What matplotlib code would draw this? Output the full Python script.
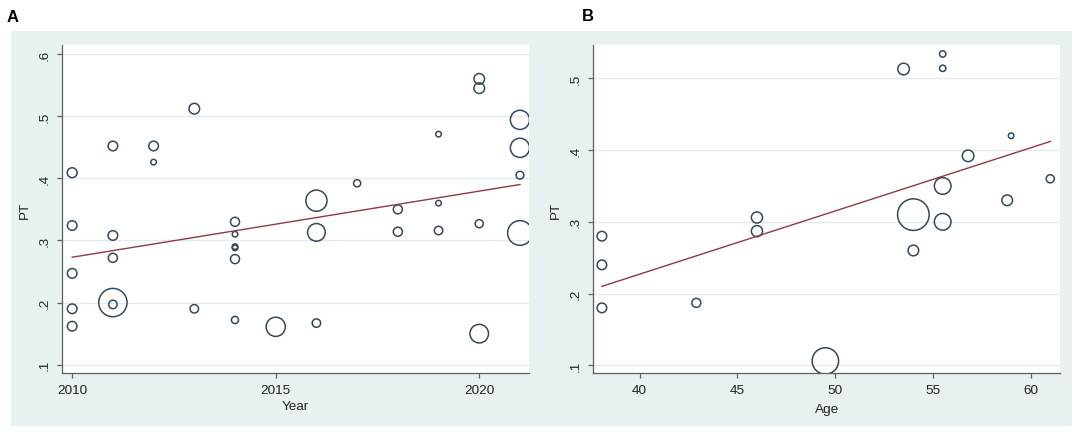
import matplotlib
matplotlib.use('Agg')
from matplotlib import pyplot as plt
from matplotlib.patches import Rectangle

plt.rcParams['font.family'] = ['Liberation Sans', 'DejaVu Sans']

# panel A: PT by publication year, marker area ~ study weight
year = [2010, 2010, 2010, 2010, 2010,
        2011, 2011, 2011, 2011, 2011,
        2012, 2012,
        2013, 2013,
        2014, 2014, 2014, 2014, 2014, 2014,
        2015,
        2016, 2016, 2016,
        2017,
        2018, 2018,
        2019, 2019, 2019,
        2020, 2020, 2020, 2020,
        2021, 2021, 2021, 2021]
pt_year = [0.409, 0.324, 0.247, 0.190, 0.162,
           0.452, 0.308, 0.272, 0.197, 0.200,
           0.452, 0.426,
           0.512, 0.190,
           0.330, 0.310, 0.290, 0.288, 0.270, 0.172,
           0.161,
           0.364, 0.313, 0.167,
           0.392,
           0.350, 0.314,
           0.471, 0.360, 0.316,
           0.560, 0.545, 0.327, 0.150,
           0.494, 0.449, 0.405, 0.312]
w_year = [10.5, 10, 10, 10, 10,
          10, 10, 9, 8, 73,
          10, 4,
          12, 8,
          9, 4, 4, 4, 9, 6,
          35,
          42, 30, 8,
          6,
          9, 9,
          4, 4, 8,
          12, 12, 7.5, 33,
          35, 35, 7, 56]
fit_year_x = [2010, 2021]
fit_year_y = [0.273, 0.390]

# panel B: PT by age
age = [38.07, 38.07, 38.07, 42.9, 46.0, 46.0, 49.5, 53.5, 54.0, 54.0,
       55.5, 55.5, 55.5, 55.5, 56.8, 58.8, 59.0, 61.0]
pt_age = [0.280, 0.240, 0.180, 0.187, 0.306, 0.287, 0.106, 0.513, 0.310, 0.260,
          0.534, 0.514, 0.350, 0.300, 0.392, 0.330, 0.420, 0.360]
w_age = [10, 10, 10, 9, 13, 13, 64, 14, 90, 12,
         5, 5, 27, 27, 14, 12, 4, 7.5]
fit_age_x = [38.07, 61.0]
fit_age_y = [0.210, 0.412]

BG = '#e9f0f2'
GRID = '#e3eaed'
AXIS = '#5f5f5f'
NAVY = '#34495c'
MAROON = '#8e3a43'

W, H = 1084, 435


def msize(w):
    # weight -> outer diameter in px -> marker area in pt^2
    d = 11 * (w / 10) ** 0.5 - 1.4
    return (d * 0.72) ** 2


def panel(rect, x, y, w, fitx, fity, xlim, ylim, xticks, xlabels, yticks, ylabels, xname, lx, ly):
    ax = fig.add_axes(rect)
    ax.set_facecolor('white')
    ax.set_xlim(*xlim)
    ax.set_ylim(*ylim)
    for t in yticks:
        ax.axhline(t, color=GRID, lw=1.0, zorder=0)
    ax.scatter(x, y, s=[msize(v) for v in w], facecolors='none', edgecolors=NAVY,
               linewidths=1.1, zorder=3)
    ax.plot(fitx, fity, color=MAROON, lw=1.0, zorder=4)
    for side in ['top', 'right']:
        ax.spines[side].set_visible(False)
    for side in ['left', 'bottom']:
        ax.spines[side].set_color(AXIS)
        ax.spines[side].set_linewidth(0.9)
    ax.set_xticks(xticks)
    ax.set_xticklabels(xlabels)
    ax.set_yticks(yticks)
    ax.set_yticklabels(ylabels, rotation=90, va='center')
    ax.tick_params(axis='both', colors=AXIS, length=3.5, width=0.9, labelsize=9.7,
                   labelcolor='#222222', pad=4.5)
    ax.set_xlabel(xname, fontsize=9.7, color='#222222')
    ax.set_ylabel('PT', fontsize=9.7, color='#222222')
    ax.xaxis.set_label_coords(0.5, lx)
    ax.yaxis.set_label_coords(ly, 0.5)
    return ax


fig = plt.figure(figsize=(W / 100, H / 100), dpi=100)
fig.patches.append(Rectangle((10.7 / W, 1 - 427.3 / H), (1071.7 - 10.7) / W, (427.3 - 31.7) / H,
                             transform=fig.transFigure, facecolor=BG, edgecolor='none', zorder=-1))

bottom = 1 - 374.3 / H
height = (374.3 - 46) / H

panel([62 / W, bottom, (528.5 - 62) / W, height],
      year, pt_year, w_year, fit_year_x, fit_year_y,
      (2009.75, 2021.21), (0.0862, 0.6145),
      [2010, 2015, 2020], ['2010', '2015', '2020'],
      [0.1, 0.2, 0.3, 0.4, 0.5, 0.6], ['.1', '.2', '.3', '.4', '.5', '.6'],
      'Year', -0.08, -0.066)

panel([593.3 / W, bottom, (1060 - 593.3) / W, height],
      age, pt_age, w_age, fit_age_x, fit_age_y,
      (37.63, 61.5), (0.0888, 0.5465),
      [40, 45, 50, 55, 60], ['40', '45', '50', '55', '60'],
      [0.1, 0.2, 0.3, 0.4, 0.5], ['.1', '.2', '.3', '.4', '.5'],
      'Age', -0.09, -0.068)

fig.text(12.5 / W, 1 - 17.5 / H, 'A', fontsize=12, fontweight='bold', ha='center', va='center')
fig.text(588 / W, 1 - 16.5 / H, 'B', fontsize=12, fontweight='bold', ha='center', va='center')

fig.savefig('out.png', dpi=100)
